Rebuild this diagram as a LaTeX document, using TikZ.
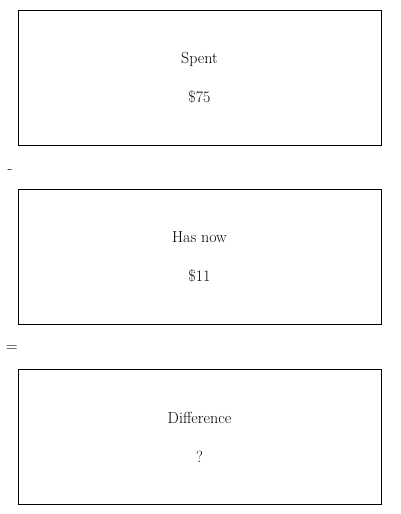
\documentclass[tikz,border=0pt]{standalone}
\usepackage{tikz}
\usetikzlibrary{positioning}

\tikzset{panel/.style={draw=black, line width=.8pt, minimum width=363pt, minimum height=135pt, inner sep=0pt, align=center}}

\begin{document}
\begin{tikzpicture}[x = 1pt, y = -1pt, style={font=\fontsize{16}{19}\selectfont}]
\useasboundingbox (0,0) rectangle (400,514);
% Spent box
\node[panel] (spent) at (199.5, 77.5) {Spent\\[20pt]\$75};
% Minus sign
\node (minus) at (10, 172) {-};
% Has now box
\node[panel, below = 44pt of spent] (hasnow) {Has now\\[20pt]\$11};
% Equals sign
\node (equals) at (12, 349) {=};
% Difference box
\node[panel, below = 44pt of hasnow] (difference) {Difference\\[20pt]?};
\end{tikzpicture}
\end{document}
